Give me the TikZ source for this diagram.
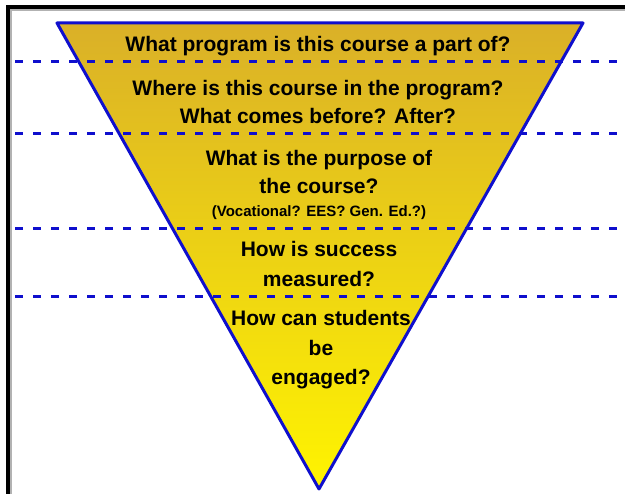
\documentclass[tikz,border=0pt]{standalone}
\usepackage{fontspec}
\setmainfont{Liberation Sans}
\usetikzlibrary{positioning}
\definecolor{edgeblue}{RGB}{15,15,205}
\definecolor{goldtop}{RGB}{218,176,40}
\definecolor{yellowbottom}{RGB}{255,244,0}
\tikzset{
  question/.style={align=center, inner sep=0pt, font=\bfseries\fontsize{21}{28.5}\selectfont},
  divider/.style={edgeblue, line width=3pt, dash pattern=on 8pt off 10pt},
}

\begin{document}
\begin{tikzpicture}[x=1pt, y=-1pt]
  \useasboundingbox (0,0) rectangle (625,494);
  % Frame
  \draw[black, line width=3.5pt] (8,494) -- (8,7) -- (625,7);
  \draw[gray!60, line width=1.2pt] (11,494) -- (11,10) -- (625,10);

  % Funnel
  \path[top color=goldtop, bottom color=yellowbottom] (57,23) -- (583,23) -- (319,489) -- cycle;

  % Dashed dividers
  \foreach \yy in {62,134,229,297}
    \draw[divider] (15,\yy) -- (625,\yy);

  \draw[edgeblue, line width=3pt, line join=round] (57,23) -- (583,23) -- (319,489) -- cycle;

  % Questions
  \node[question] (program) at (318,46) {What program is this course a part of?};
  \node[question] (place) at (318,102) {Where is this course in the program?\\What comes before? After?};
  \node[question] (purpose) at (319,172) {What is the purpose of\\the course?};
  \node[question, font=\bfseries\fontsize{15}{18}\selectfont, below=11pt of purpose] (purposeNote) {(Vocational? EES? Gen. Ed.?)};
  \node[question, font=\bfseries\fontsize{21}{30}\selectfont] (success) at (319,264) {How is success\\measured?};
  \node[question, font=\bfseries\fontsize{21}{29.5}\selectfont] (engage) at (321,350) {How can students\\be\\engaged?};
\end{tikzpicture}
\end{document}
